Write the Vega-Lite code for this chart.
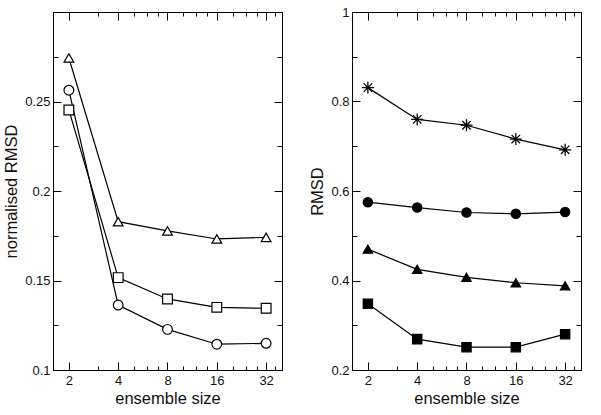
{
  "$schema": "https://vega.github.io/schema/vega-lite/v6.json",
  "padding": {"left": 3, "top": 5, "right": 5, "bottom": 5},
  "spacing": 26,
  "resolve": {"scale": {"shape": "independent"}},
  "config": {
    "font": "Liberation Sans",
    "view": {"stroke": "black", "strokeWidth": 1},
    "axis": {
      "grid": false,
      "domainColor": "black",
      "domainWidth": 1,
      "tickColor": "black",
      "tickWidth": 1,
      "labelFontSize": 13,
      "labelColor": "#111",
      "titleFontSize": 16.5,
      "titleFontWeight": "normal",
      "titleColor": "#111"
    }
  },
  "datasets": {
    "left": [
      {"s": "triangle", "n": 2, "v": 0.2743},
      {"s": "triangle", "n": 4, "v": 0.1829},
      {"s": "triangle", "n": 8, "v": 0.1777},
      {"s": "triangle", "n": 16, "v": 0.1732},
      {"s": "triangle", "n": 32, "v": 0.1741},
      {"s": "circle", "n": 2, "v": 0.2563},
      {"s": "circle", "n": 4, "v": 0.1363},
      {"s": "circle", "n": 8, "v": 0.1227},
      {"s": "circle", "n": 16, "v": 0.1144},
      {"s": "circle", "n": 32, "v": 0.1149},
      {"s": "square", "n": 2, "v": 0.2453},
      {"s": "square", "n": 4, "v": 0.1516},
      {"s": "square", "n": 8, "v": 0.1397},
      {"s": "square", "n": 16, "v": 0.135},
      {"s": "square", "n": 32, "v": 0.1345}
    ],
    "right": [
      {"s": "star", "n": 2, "v": 0.831},
      {"s": "star", "n": 4, "v": 0.76},
      {"s": "star", "n": 8, "v": 0.747},
      {"s": "star", "n": 16, "v": 0.716},
      {"s": "star", "n": 32, "v": 0.692},
      {"s": "circle", "n": 2, "v": 0.575},
      {"s": "circle", "n": 4, "v": 0.563},
      {"s": "circle", "n": 8, "v": 0.552},
      {"s": "circle", "n": 16, "v": 0.549},
      {"s": "circle", "n": 32, "v": 0.553},
      {"s": "triangle", "n": 2, "v": 0.47},
      {"s": "triangle", "n": 4, "v": 0.425},
      {"s": "triangle", "n": 8, "v": 0.407},
      {"s": "triangle", "n": 16, "v": 0.395},
      {"s": "triangle", "n": 32, "v": 0.388},
      {"s": "square", "n": 2, "v": 0.348},
      {"s": "square", "n": 4, "v": 0.269},
      {"s": "square", "n": 8, "v": 0.251},
      {"s": "square", "n": 16, "v": 0.251},
      {"s": "square", "n": 32, "v": 0.28}
    ]
  },
  "hconcat": [
    {
      "width": 229,
      "height": 358,
      "data": {"name": "left"},
      "layer": [
        {
          "mark": {"type": "point", "opacity": 0},
          "encoding": {
            "x": {"field": "n", "type": "quantitative", "scale": {"type": "log", "base": 2, "domain": [1.6, 40], "nice": false},
              "axis": {"orient": "bottom", "title": null, "labels": false, "domain": false, "tickSize": -4,
                "values": [2, 3, 4, 5, 6, 7, 8, 10, 12, 14, 16, 20, 24, 28, 32, 36]}},
            "y": {"field": "v", "type": "quantitative", "scale": {"domain": [0.1, 0.3], "nice": false, "zero": false},
              "axis": {"orient": "left", "title": null, "labels": false, "domain": false, "tickSize": -5,
                "values": [0.1, 0.125, 0.15, 0.175, 0.2, 0.225, 0.25, 0.275, 0.3]}}
          }
        },
        {
          "mark": {"type": "point", "opacity": 0},
          "encoding": {
            "x": {"field": "n", "type": "quantitative", "scale": {"type": "log", "base": 2, "domain": [1.6, 40], "nice": false},
              "axis": {"orient": "top", "title": null, "labels": false, "domain": false, "tickSize": -4,
                "values": [2, 3, 4, 5, 6, 7, 8, 10, 12, 14, 16, 20, 24, 28, 32, 36]}},
            "y": {"field": "v", "type": "quantitative", "scale": {"domain": [0.1, 0.3], "nice": false, "zero": false},
              "axis": {"orient": "right", "title": null, "labels": false, "domain": false, "tickSize": -5,
                "values": [0.1, 0.125, 0.15, 0.175, 0.2, 0.225, 0.25, 0.275, 0.3]}}
          }
        },
        {
          "mark": {"type": "line", "color": "black", "strokeWidth": 1.2},
          "encoding": {
            "x": {"field": "n", "type": "quantitative", "scale": {"type": "log", "base": 2, "domain": [1.6, 40], "nice": false},
              "axis": {"orient": "bottom", "title": "ensemble size", "titlePadding": 3, "tickSize": -8, "labelPadding": 12,
                "values": [2, 4, 8, 16, 32]}},
            "y": {"field": "v", "type": "quantitative", "scale": {"domain": [0.1, 0.3], "nice": false, "zero": false},
              "axis": {"orient": "left", "title": "normalised RMSD", "titlePadding": 5, "tickSize": -8, "labelPadding": 11,
                "values": [0.1, 0.15, 0.2, 0.25, 0.3],
                "labelExpr": "datum.value < 0.29 ? datum.value + '' : ''"}},
            "detail": {"field": "s"}
          }
        },
        {
          "mark": {"type": "point", "filled": true, "fill": "white", "stroke": "black", "strokeWidth": 1.2, "size": 95, "opacity": 1},
          "encoding": {
            "x": {"field": "n", "type": "quantitative", "scale": {"type": "log", "base": 2, "domain": [1.6, 40], "nice": false},
              "axis": {"orient": "top", "title": null, "labels": false, "tickSize": -8,
                "values": [2, 4, 8, 16, 32]}},
            "y": {"field": "v", "type": "quantitative", "scale": {"domain": [0.1, 0.3], "nice": false, "zero": false},
              "axis": {"orient": "right", "title": null, "labels": false, "tickSize": -8,
                "values": [0.1, 0.15, 0.2, 0.25, 0.3]}},
            "shape": {
              "field": "s", "type": "nominal",
              "scale": {"domain": ["triangle", "circle", "square"], "range": ["triangle-up", "circle", "square"]},
              "legend": null
            }
          }
        }
      ],
      "resolve": {"axis": {"x": "independent", "y": "independent"}}
    },
    {
      "width": 229,
      "height": 358,
      "data": {"name": "right"},
      "layer": [
        {
          "mark": {"type": "point", "opacity": 0},
          "encoding": {
            "x": {"field": "n", "type": "quantitative", "scale": {"type": "log", "base": 2, "domain": [1.6, 40], "nice": false},
              "axis": {"orient": "bottom", "title": null, "labels": false, "domain": false, "tickSize": -4,
                "values": [2, 3, 4, 5, 6, 7, 8, 10, 12, 14, 16, 20, 24, 28, 32, 36]}},
            "y": {"field": "v", "type": "quantitative", "scale": {"domain": [0.2, 1.0], "nice": false, "zero": false},
              "axis": {"orient": "left", "title": null, "labels": false, "domain": false, "tickSize": -5,
                "values": [0.2, 0.3, 0.4, 0.5, 0.6, 0.7, 0.8, 0.9, 1.0]}}
          }
        },
        {
          "mark": {"type": "point", "opacity": 0},
          "encoding": {
            "x": {"field": "n", "type": "quantitative", "scale": {"type": "log", "base": 2, "domain": [1.6, 40], "nice": false},
              "axis": {"orient": "top", "title": null, "labels": false, "domain": false, "tickSize": -4,
                "values": [2, 3, 4, 5, 6, 7, 8, 10, 12, 14, 16, 20, 24, 28, 32, 36]}},
            "y": {"field": "v", "type": "quantitative", "scale": {"domain": [0.2, 1.0], "nice": false, "zero": false},
              "axis": {"orient": "right", "title": null, "labels": false, "domain": false, "tickSize": -5,
                "values": [0.2, 0.3, 0.4, 0.5, 0.6, 0.7, 0.8, 0.9, 1.0]}}
          }
        },
        {
          "mark": {"type": "line", "color": "black", "strokeWidth": 1.2},
          "encoding": {
            "x": {"field": "n", "type": "quantitative", "scale": {"type": "log", "base": 2, "domain": [1.6, 40], "nice": false},
              "axis": {"orient": "bottom", "title": "ensemble size", "titlePadding": 3, "tickSize": -8, "labelPadding": 12,
                "values": [2, 4, 8, 16, 32]}},
            "y": {"field": "v", "type": "quantitative", "scale": {"domain": [0.2, 1.0], "nice": false, "zero": false},
              "axis": {"orient": "left", "title": "RMSD", "titlePadding": 5, "tickSize": -8, "labelPadding": 11,
                "values": [0.2, 0.4, 0.6, 0.8, 1.0],
                "labelExpr": "datum.value + ''"}},
            "detail": {"field": "s"}
          }
        },
        {
          "mark": {"type": "point", "filled": true, "fill": "black", "stroke": "black", "strokeWidth": 1.3, "size": 85, "opacity": 1},
          "encoding": {
            "x": {"field": "n", "type": "quantitative", "scale": {"type": "log", "base": 2, "domain": [1.6, 40], "nice": false},
              "axis": {"orient": "top", "title": null, "labels": false, "tickSize": -8,
                "values": [2, 4, 8, 16, 32]}},
            "y": {"field": "v", "type": "quantitative", "scale": {"domain": [0.2, 1.0], "nice": false, "zero": false},
              "axis": {"orient": "right", "title": null, "labels": false, "tickSize": -8,
                "values": [0.2, 0.4, 0.6, 0.8, 1.0]}},
            "shape": {
              "field": "s", "type": "nominal",
              "scale": {"domain": ["star", "circle", "triangle", "square"], "range": ["M-1.3,0H1.3M0,-1.3V1.3M-0.92,-0.92L0.92,0.92M-0.92,0.92L0.92,-0.92", "circle", "triangle-up", "square"]},
              "legend": null
            }
          }
        }
      ],
      "resolve": {"axis": {"x": "independent", "y": "independent"}}
    }
  ]
}
